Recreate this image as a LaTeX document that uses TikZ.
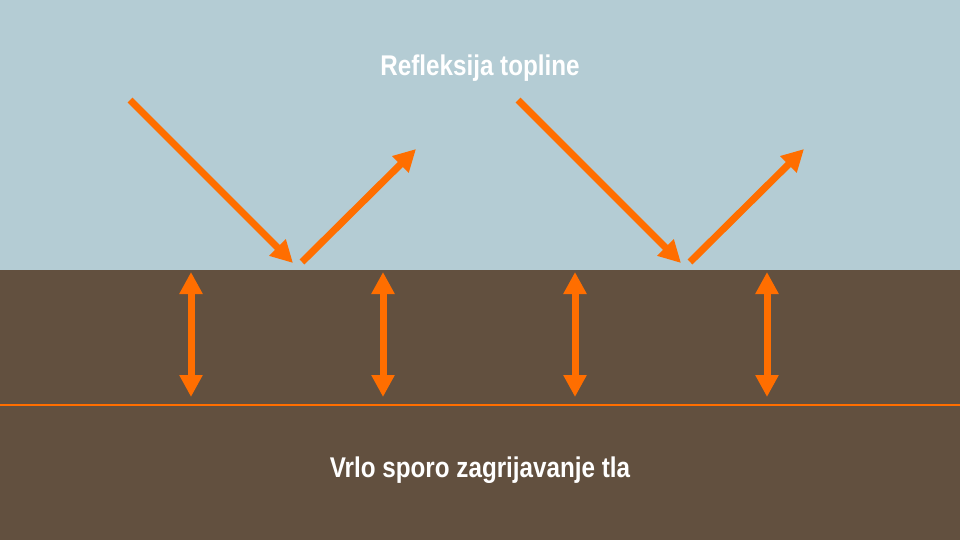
\documentclass[tikz,border=0pt]{standalone}
\usepackage{fontspec}
\setmainfont{Liberation Sans}
\usetikzlibrary{arrows.meta}
\definecolor{sky}{HTML}{B4CCD4}
\definecolor{soil}{HTML}{62503F}
\definecolor{heat}{HTML}{FF6E00}
\tikzset{ray/.style={draw=heat,line width=7pt,-{Triangle[length=22pt,width=22pt]}},
 dbl/.style={draw=heat,line width=7pt,{Triangle[length=22pt,width=22pt]}-{Triangle[length=22pt,width=22pt]}},
 lbl/.style={text=white,font=\bfseries\fontsize{28.5}{32}\selectfont,xscale=0.85}}
\begin{document}
\begin{tikzpicture}[x=1pt,y=-1pt]
\useasboundingbox (0,0) rectangle (960,540);
\fill[sky] (0,0) rectangle (960,270);
\fill[soil] (0,270) rectangle (960,540);
\coordinate (l0) at (0,405); \coordinate (l1) at (960,405);
\draw[heat,line width=2.5pt] (l0) -- (l1);
\node[lbl] (t1) at (480,68) {Refleksija topline};
\node[lbl] (t2) at (480,470) {Vrlo sporo zagrijavanje tla};
\foreach \d/\n in {0/a,388/b}{
 \coordinate (\n1) at (130+\d,100); \coordinate (\n2) at (293+\d,263);
 \coordinate (\n3) at (302+\d,262); \coordinate (\n4) at (416+\d,149);
 \draw[ray] (\n1) -- (\n2);
 \draw[ray] (\n3) -- (\n4);
}
\foreach \x/\n in {191/p,383/q,575/r,767/s}{
 \coordinate (\n1) at (\x,272); \coordinate (\n2) at (\x,397);
 \draw[dbl] (\n1) -- (\n2);
}
\end{tikzpicture}
\end{document}
